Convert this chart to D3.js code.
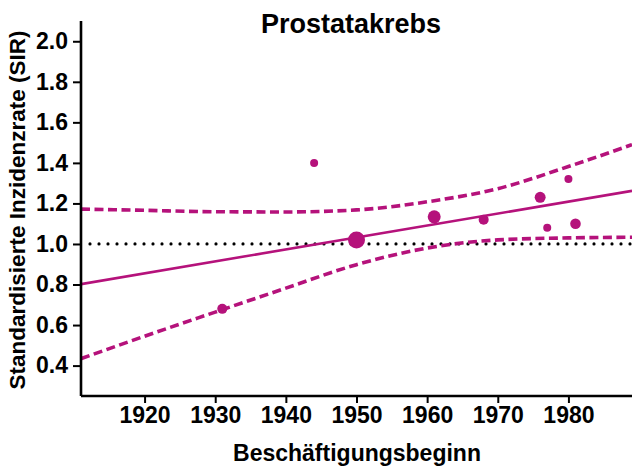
<!DOCTYPE html>
<html><head><meta charset="utf-8">
<script src="https://cdn.jsdelivr.net/npm/d3@7"></script>
<style>
html,body{margin:0;padding:0;background:#fff;}
text{font-family:"Liberation Sans",Arial,sans-serif;font-weight:bold;fill:#000;}
</style></head>
<body><svg id="c" width="632" height="468"></svg>
<script>
// Data
const pointYears = [1931, 1944, 1950, 1961, 1968, 1976, 1977, 1980, 1981];
const pointSIR   = [0.68, 1.40, 1.02, 1.134, 1.12, 1.23, 1.08, 1.32, 1.10];
const pointWeight = [25, 16, 72, 42, 25, 30, 16, 16, 28];
const fitYears = [1911, 1989];
const fitSIR = [0.802, 1.262];
const ciYears = [1911, 1920, 1930, 1940, 1950, 1960, 1970, 1980, 1989];
const ciUpper = [1.172, 1.166, 1.159, 1.158, 1.168, 1.208, 1.273, 1.382, 1.49];
const ciLower = [0.434, 0.545, 0.664, 0.782, 0.898, 0.980, 1.020, 1.030, 1.033];
const xTicks = [1920, 1930, 1940, 1950, 1960, 1970, 1980];
const yTicks = [0.4, 0.6, 0.8, 1.0, 1.2, 1.4, 1.6, 1.8, 2.0];
const refValue = [1.0];

const color = "#b5127b";
const svg = d3.select("#c");
const L = 81, R = 632, T = 21, B = 396;
const x = d3.scaleLinear().domain([1911, 1989]).range([L, R]);
const y = d3.scaleLinear().domain([0.25, 2.1]).range([B, T]);
const rScale = d3.scaleSqrt().domain([0, d3.max(pointWeight)]).range([0, 8.5]);

svg.append("defs").append("clipPath").attr("id","clip")
  .append("rect").attr("x", L).attr("y", T).attr("width", R - L).attr("height", B - T);
const plot = svg.append("g").attr("clip-path","url(#clip)");

// reference line
plot.selectAll("line.ref").data(refValue).enter().append("line")
  .attr("x1", L + 9).attr("x2", R).attr("y1", d => y(d)).attr("y2", d => y(d))
  .attr("stroke", "#000").attr("stroke-width", 3.2).attr("stroke-linecap","round")
  .attr("stroke-dasharray", "0,9");

// CI bands
const ciLine = d3.line().curve(d3.curveMonotoneX).x(d => x(d[0])).y(d => y(d[1]));
[ciUpper, ciLower].forEach(arr => {
  plot.append("path").datum(ciYears.map((yr, i) => [yr, arr[i]]))
    .attr("d", ciLine).attr("fill","none").attr("stroke", color)
    .attr("stroke-width", 3.6).attr("stroke-dasharray","9,4.5");
});

// fit line
plot.append("path").datum(fitYears.map((yr, i) => [yr, fitSIR[i]]))
  .attr("d", d3.line().x(d => x(d[0])).y(d => y(d[1])))
  .attr("fill","none").attr("stroke", color).attr("stroke-width", 2.6);

// points
plot.selectAll("circle").data(pointYears.map((yr, i) => ({yr, v: pointSIR[i], w: pointWeight[i]})))
  .enter().append("circle")
  .attr("cx", d => x(d.yr)).attr("cy", d => y(d.v)).attr("r", d => rScale(d.w))
  .attr("fill", color);

// axes
const xAxis = svg.append("g").attr("transform", `translate(0,${B})`)
  .call(d3.axisBottom(x).tickValues(xTicks).tickFormat(d3.format("d")).tickSize(7).tickPadding(4));
const yAxis = svg.append("g").attr("transform", `translate(${L},0)`)
  .call(d3.axisLeft(y).tickValues(yTicks).tickFormat(d3.format(".1f")).tickSize(8).tickPadding(5));
[xAxis, yAxis].forEach(g => {
  g.select(".domain").attr("stroke","#000").attr("stroke-width", 2.6);
  g.selectAll(".tick line").attr("stroke","#000").attr("stroke-width", 2);
  g.selectAll(".tick text").style("font-size","23px").style("font-family","'Liberation Sans',Arial,sans-serif").style("font-weight","bold").attr("fill","#000");
});
xAxis.select(".domain").attr("d", `M${L},0H${R}`);
yAxis.select(".domain").attr("d", `M0,${T}V${B}`);

// titles
svg.append("text").attr("x", 351).attr("y", 33).attr("text-anchor","middle")
  .style("font-size","27px").text("Prostatakrebs");
svg.append("text").attr("x", 357).attr("y", 461).attr("text-anchor","middle")
  .style("font-size","23px").text("Beschäftigungsbeginn");
svg.append("text").attr("transform","translate(25,210) rotate(-90)").attr("text-anchor","middle")
  .style("font-size","22.5px").text("Standardisierte Inzidenzrate (SIR)");
</script></body></html>
